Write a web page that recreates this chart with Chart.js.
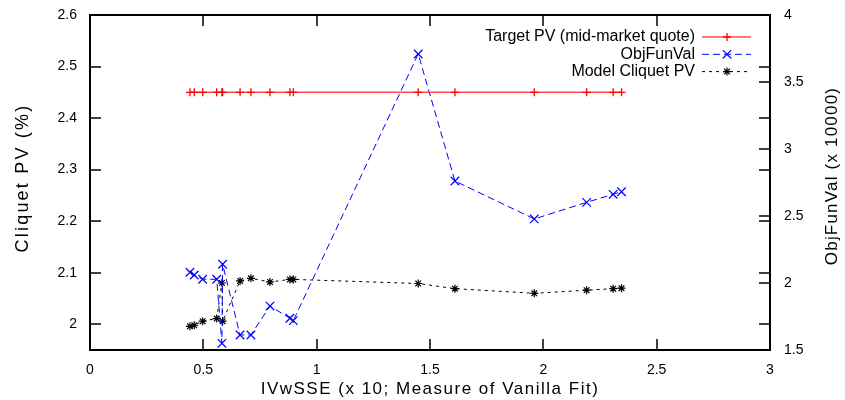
<!DOCTYPE html>
<html>
<head>
<meta charset="utf-8">
<script src="https://cdn.jsdelivr.net/npm/chart.js@4.4.1/dist/chart.umd.min.js"></script>
<style>
  html, body { margin:0; padding:0; background:#fff; }
  #wrap { width:845px; height:400px; }
</style>
</head>
<body>
<div id="wrap"><canvas id="c" width="845" height="400"></canvas></div>
<script>
// IVwSSE (x 10) of each calibration run
const ivwsse    = [0.441, 0.460, 0.497, 0.559, 0.582, 0.585, 0.662, 0.710, 0.794, 0.882, 0.897, 1.448, 1.610, 1.960, 2.191, 2.308, 2.345];
// Cliquet PV (%) — target quote and model result
const targetPV  = [2.45, 2.45, 2.45, 2.45, 2.45, 2.45, 2.45, 2.45, 2.45, 2.45, 2.45, 2.45, 2.45, 2.45, 2.45, 2.45, 2.45];
const modelPV   = [1.996, 1.998, 2.006, 2.011, 2.080, 2.006, 2.084, 2.089, 2.082, 2.087, 2.087, 2.079, 2.069, 2.060, 2.066, 2.069, 2.070];
// objective function value (x 10000), right axis
const objFunVal = [2.080, 2.060, 2.028, 2.028, 1.550, 2.140, 1.612, 1.612, 1.828, 1.737, 1.719, 3.709, 2.761, 2.478, 2.602, 2.662, 2.681];

const seriesNames = ['Target PV (mid-market quote)', 'ObjFunVal', 'Model Cliquet PV'];
const xTicks  = [0, 0.5, 1, 1.5, 2, 2.5, 3];
const yTicks  = [2, 2.1, 2.2, 2.3, 2.4, 2.5, 2.6];
const y2Ticks = [1.5, 2, 2.5, 3, 3.5, 4];
const xTitle  = 'IVwSSE (x 10; Measure of Vanilla Fit)';
const yTitle  = 'Cliquet PV (%)';
const y2Title = 'ObjFunVal (x 10000)';

const FONT = '"Liberation Sans", Arial, Helvetica, sans-serif';
Chart.defaults.font.family = FONT;
Chart.defaults.color = '#000';

function pts(ys){ return ivwsse.map((x,i) => ({ x, y: ys[i] })); }
function fixedTicks(list){ return s => { s.ticks = list.map(v => ({ value:v })); }; }
function fitV(w){ return s => { s.width = w; s.paddingTop = 0; s.paddingBottom = 0; }; }

// gnuplot style frame with inward ticks, mirrored on the opposite side
const framePlugin = {
  id:'frame',
  afterDatasetsDraw(chart){
    const { ctx, chartArea:a, scales } = chart;
    const T = 11;
    ctx.save();
    ctx.strokeStyle = '#000';
    ctx.lineWidth = 1.5;
    ctx.beginPath();
    xTicks.forEach(v => {
      const px = Math.round(scales.x.getPixelForValue(v));
      ctx.moveTo(px, a.bottom); ctx.lineTo(px, a.bottom - T);
      ctx.moveTo(px, a.top);    ctx.lineTo(px, a.top + T);
    });
    yTicks.forEach(v => {
      const py = Math.round(scales.y.getPixelForValue(v));
      ctx.moveTo(a.left, py);  ctx.lineTo(a.left + T, py);
      ctx.moveTo(a.right, py); ctx.lineTo(a.right - T, py);
    });
    y2Ticks.forEach(v => {
      const py = Math.round(scales.y2.getPixelForValue(v));
      ctx.moveTo(a.right, py); ctx.lineTo(a.right - T, py);
    });
    ctx.stroke();
    ctx.lineWidth = 2;
    ctx.strokeRect(a.left, a.top, a.right - a.left, a.bottom - a.top);
    ctx.restore();
  }
};

// axis titles + legend (text right aligned, sample on the right)
const textPlugin = {
  id:'texts',
  afterDraw(chart){
    const { ctx, chartArea:a } = chart;
    ctx.save();
    ctx.fillStyle = '#000';
    ctx.textBaseline = 'middle';
    ctx.textAlign = 'center';

    ctx.font = '17px ' + FONT;
    ctx.letterSpacing = '1.5px';
    ctx.fillText(xTitle, (a.left + a.right) / 2, 389);

    ctx.save();
    ctx.font = '18px ' + FONT;
    ctx.letterSpacing = '2.2px';
    ctx.translate(23, 178);
    ctx.rotate(-Math.PI / 2);
    ctx.fillText(yTitle, 0, 0);
    ctx.restore();

    ctx.save();
    ctx.font = '17px ' + FONT;
    ctx.letterSpacing = '1.2px';
    ctx.translate(832, 176);
    ctx.rotate(-Math.PI / 2);
    ctx.fillText(y2Title, 0, 0);
    ctx.restore();

    ctx.letterSpacing = '0px';
    ctx.font = '16px ' + FONT;
    ctx.textAlign = 'right';
    chart.data.datasets.forEach((ds, i) => {
      const y = a.top + 22 + i * 17.3;
      ctx.fillText(ds.label, 695, y);
      ctx.strokeStyle = ds.borderColor;
      ctx.lineWidth = ds.borderWidth;
      ctx.setLineDash(ds.borderDash || []);
      ctx.beginPath(); ctx.moveTo(702, y); ctx.lineTo(751, y); ctx.stroke();
      ctx.setLineDash([]);
      ctx.strokeStyle = ds.pointBorderColor;
      ctx.lineWidth = ds.pointBorderWidth;
      Chart.helpers.drawPoint(ctx, { pointStyle: ds.pointStyle, radius: ds.pointRadius, rotation: 0, borderWidth: ds.pointBorderWidth }, 727, y);
    });
    ctx.restore();
  }
};

const tickFont = { size:14 };

new Chart(document.getElementById('c'), {
  type:'line',
  data:{
    datasets:[
      { label:seriesNames[0], data:pts(targetPV), yAxisID:'y',
        borderColor:'#ff4a4a', borderWidth:1.4, pointStyle:'cross', pointRadius:4,
        pointBorderColor:'#ff0000', pointBorderWidth:1.3, fill:false, tension:0 },
      { label:seriesNames[1], data:pts(objFunVal), yAxisID:'y2',
        borderColor:'#0000ff', borderWidth:1, borderDash:[7,4], pointStyle:'crossRot', pointRadius:6,
        pointBorderColor:'#0000ff', pointBorderWidth:1.2, fill:false, tension:0 },
      { label:seriesNames[2], data:pts(modelPV), yAxisID:'y',
        borderColor:'#000000', borderWidth:1, borderDash:[3,4], pointStyle:'star', pointRadius:4,
        pointBorderColor:'#000000', pointBorderWidth:1.2, fill:false, tension:0 }
    ]
  },
  options:{
    responsive:false, animation:false, devicePixelRatio:1,
    layout:{ padding:{ top:15, left:0, right:0, bottom:0 } },
    plugins:{ legend:{ display:false }, tooltip:{ enabled:false } },
    scales:{
      x:{ type:'linear', min:0, max:3,
          afterBuildTicks:fixedTicks(xTicks),
          afterFit:s => { s.height = 50; s.paddingLeft = 0; s.paddingRight = 0; },
          grid:{ display:false, drawTicks:false }, border:{ display:false },
          ticks:{ font:tickFont, padding:12, maxRotation:0, autoSkip:false, callback:v => String(v) } },
      y:{ position:'left', min:1.95, max:2.6,
          afterBuildTicks:fixedTicks(yTicks), afterFit:fitV(90),
          grid:{ display:false, drawTicks:false }, border:{ display:false },
          ticks:{ font:tickFont, padding:13, autoSkip:false, callback:v => String(v) } },
      y2:{ position:'right', min:1.5, max:4,
          afterBuildTicks:fixedTicks(y2Ticks), afterFit:fitV(75),
          grid:{ display:false, drawTicks:false }, border:{ display:false },
          ticks:{ font:tickFont, padding:14, autoSkip:false, callback:v => String(v) } }
    }
  },
  plugins:[framePlugin, textPlugin]
});
</script>
</body>
</html>
